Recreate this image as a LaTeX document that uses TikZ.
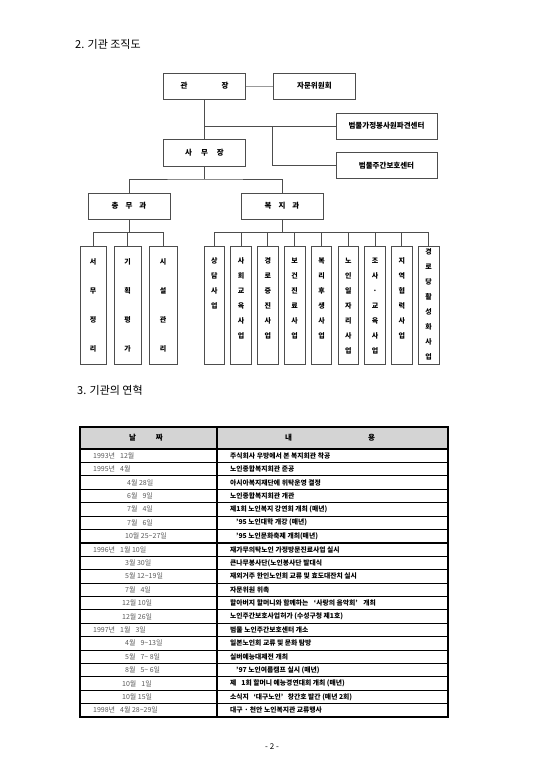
\documentclass[tikz,border=0pt]{standalone}
\usepackage{fontspec}
\setmainfont{Noto Sans CJK KR}
\usetikzlibrary{positioning}
\definecolor{linegray}{HTML}{4D4D4D}
\definecolor{datetext}{HTML}{5A5A5A}
\definecolor{headfill}{HTML}{D4D4D4}
\tikzset{
  orgbox/.style={draw=linegray,line width=0.9pt,minimum width=82pt,minimum height=26pt,inner sep=0pt,font=\bfseries\fontsize{7.5}{9}\selectfont},
  tallbox/.style={draw=linegray,line width=0.9pt,minimum height=118pt,inner sep=0pt},
  vtext/.style={inner sep=0pt,align=center,font=\bfseries\fontsize{7}{15}\selectfont},
  link/.style={draw=linegray,line width=0.9pt},
  datecell/.style={anchor=west,inner sep=0pt,text=datetext,font=\fontsize{7}{8}\selectfont},
  eventcell/.style={anchor=west,inner sep=0pt,font=\bfseries\fontsize{6.8}{8}\selectfont},
  heading/.style={anchor=west,inner sep=0pt,font=\fontsize{11}{12}\selectfont}
}
\begin{document}
\begin{tikzpicture}[x=1pt,y=-1pt]
\fill[white] (0,0) rectangle (543,768);
\useasboundingbox (0,0) rectangle (543,768);
\node[heading] (title2) at (75,44) {2. 기관 조직도};
\node[orgbox] (gwanjang) at (204.5,86) {관\hspace{34pt}장};
\node[orgbox,right=27pt of gwanjang] (jamun) {자문위원회};
\node[orgbox,minimum width=101pt] (pagyeon) at (386.5,126) {범물가정봉사원파견센터};
\node[orgbox,minimum width=101pt,below=13pt of pagyeon] (jugan) {범물주간보호센터};
\node[orgbox,minimum height=27pt] (samu) at (204.5,152.5) {사\hspace{9pt}무\hspace{9pt}장};
\node[orgbox] (chongmu) at (129,206) {총\hspace{7pt}무\hspace{7pt}과};
\node[orgbox] (bokji) at (282,206) {복\hspace{7pt}지\hspace{7pt}과};
\draw[link,draw=black!40] (gwanjang) -- (jamun);
\draw[link] (gwanjang) -- (samu);
\draw[link] (gwanjang.south |- pagyeon.west) -- (pagyeon.west);
\coordinate (fork) at (272,126);
\draw[link] (fork) |- (jugan.west);
\coordinate (bus) at (204.5,179);
\draw[link] (samu) -- (bus);
\draw[link] (chongmu) |- (bus) -| (bokji);
\foreach \x/\w/\name [count=\i] in {93/26/{서\\무\\정\\리},127.5/27/{기\\획\\평\\가},163/28/{시\\설\\관\\리}}{
  \node[tallbox,minimum width=\w pt] (admin\i) at (\x,305) {};
  \node[vtext,font=\bfseries\fontsize{7}{29}\selectfont] (admintext\i) at (admin\i) {\name};
}
\coordinate (leftbus) at (129,232);
\draw[link] (chongmu) -- (leftbus);
\foreach \i in {1,2,3} \draw[link] (leftbus) -| (admin\i);
\foreach \gap/\name [count=\i] in {12/{상\\담\\사\\업},12/{사\\회\\교\\육\\사\\업},12/{경\\로\\증\\진\\사\\업},12/{보\\건\\진\\료\\사\\업},12/{복\\리\\후\\생\\사\\업},12/{노\\인\\일\\자\\리\\사\\업},12/{조\\사\\·\\교\\육\\사\\업},12/{지\\역\\협\\력\\사\\업},3/{경\\로\\당\\활\\성\\화\\사\\업}}{
  \node[tallbox,minimum width=20.5pt] (welfare\i) at (187.5+26.8*\i,305) {};
  \node[vtext,below=\gap pt of welfare\i.north] (welfaretext\i) {\name};
}
\coordinate (rightbus) at (282,232);
\draw[link] (bokji) -- (rightbus);
\foreach \i in {1,...,9} \draw[link] (rightbus) -| (welfare\i);
\node[heading] (title3) at (77,390) {3. 기관의 연혁};
\fill[headfill] (80,427) rectangle (448,449);
\foreach \r in {2,...,6,8,9,...,12,14,15,...,18} \draw[line width=0.7pt] (80,449+13.4*\r) -- (448,449+13.4*\r);
\foreach \r in {0,1,7,13,19} \draw[line width=1.4pt] (80,449+13.4*\r) -- (448,449+13.4*\r);
\draw[line width=1.6pt] (80,427) rectangle (448,717);
\draw[line width=1.6pt] (217,427) -- (217,717);
\node[font=\bfseries\fontsize{7.5}{9}\selectfont] (headdate) at (146,438) {날\hspace{20pt}짜};
\node[font=\bfseries\fontsize{7.5}{9}\selectfont] (headevent) at (330,438) {내\hspace{76pt}용};
\foreach \dx/\date/\event [count=\r] in {
  93/{1993년\hspace{5pt}12월}/{주식회사 우방에서 본 복지회관 착공},
  93/{1995년\hspace{5pt}4월}/{노인종합복지회관 준공},
  127/{4월 28일}/{아시아복지재단에 위탁운영 결정},
  127/{6월\hspace{5pt}9일}/{노인종합복지회관 개관},
  127/{7월\hspace{5pt}4일}/{제1회 노인복지 강연회 개최 (매년)},
  127/{7월\hspace{5pt}6일}/{\hspace{6pt}’95 노인대학 개강 (매년)},
  125/{10월 25\textasciitilde 27일}/{\hspace{6pt}’95 노인문화축제 개최(매년)},
  93/{1996년\hspace{5pt}1월 10일}/{재가무의탁노인 가정방문진료사업 실시},
  125/{3월 30일}/{큰나무봉사단(노인봉사단 발대식},
  125/{5월 12\textasciitilde 19일}/{재외거주 한인노인회 교류 및 효도대잔치 실시},
  125/{7월\hspace{5pt}4일}/{자문위원 위촉},
  122/{12월 10일}/{할아버지 할머니와 함께하는 \hspace{4pt}‘사랑의 음악회’\hspace{4pt} 개최},
  122/{12월 26일}/{노인주간보호사업허가 (수성구청 제1호)},
  93/{1997년\hspace{5pt}1월\hspace{5pt}3일}/{범물 노인주간보호센터 개소},
  125/{4월\hspace{5pt}9\textasciitilde 13일}/{일본노인회 교류 및 문화 탐방},
  125/{5월\hspace{5pt}7\textasciitilde\ 8일}/{실버예능대제전 개최},
  125/{8월\hspace{5pt}5\textasciitilde\ 6일}/{\hspace{6pt}’97 노인여름캠프 실시 (매년)},
  122/{10월\hspace{5pt}1일}/{제\hspace{5pt}1회 할머니 예능경연대회 개최 (매년)},
  122/{10월 15일}/{소식지 \hspace{3pt}‘대구노인’\hspace{3pt} 창간호 발간 (매년 2회)},
  93/{1998년\hspace{5pt}4월 28\textasciitilde 29일}/{대구 · 천안 노인복지관 교류행사}}{
  \node[datecell] (date\r) at (\dx,442.3+13.4*\r) {\date};
  \node[eventcell] (event\r) at (230,442.3+13.4*\r) {\event};
}
\node[font=\fontsize{8}{9}\selectfont] (pagenum) at (272,747) {- 2 -};
\end{tikzpicture}
\end{document}
